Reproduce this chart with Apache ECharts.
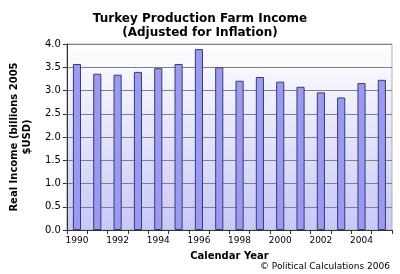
<!DOCTYPE html>
<html><head><meta charset="utf-8">
<script src="https://cdn.jsdelivr.net/npm/echarts@6/dist/echarts.min.js"></script>
<style>html,body{margin:0;padding:0;background:#fff}#c{width:400px;height:274px}</style>
</head><body><div id="c"></div>
<script>
var years = ['1990','1991','1992','1993','1994','1995','1996','1997','1998','1999','2000','2001','2002','2003','2004','2005'];
var income = [3.57,3.36,3.34,3.40,3.48,3.57,3.89,3.50,3.21,3.29,3.19,3.08,2.96,2.85,3.16,3.23];
var titleLines = ['Turkey Production Farm Income','(Adjusted for Inflation)'];
var yName = 'Real Income (billions 2005\n$USD)';
var xName = 'Calendar Year';
var credit = '\u00a9 Political Calculations 2006';

var chart = echarts.init(document.getElementById('c'), null, {renderer:'canvas'});
var F = 'DejaVu Sans';
chart.setOption({
  animation:false,
  textStyle:{fontFamily:F},
  title:[{text:titleLines.join('\n'), left:'center', top:7, textStyle:{fontFamily:F,fontSize:12,fontWeight:'bold',color:'#000',lineHeight:14}},
         {text:credit, right:5, top:257, textStyle:{fontFamily:F,fontSize:9,fontWeight:'normal',color:'#000'}}],
  grid:{left:59, right:8, top:44, bottom:44, show:true, borderColor:'#b0b0b0', borderWidth:1,
        backgroundColor:new echarts.graphic.LinearGradient(0,0,0,1,[{offset:0,color:'#ffffff'},{offset:1,color:'#c8c8f8'}])},
  xAxis:{type:'category', data:years, boundaryGap:true,
         name:xName, nameLocation:'middle', nameGap:21,
         nameTextStyle:{fontFamily:F,fontSize:10,fontWeight:'bold',color:'#000'},
         axisLine:{lineStyle:{color:'#333',width:1}},
         axisTick:{show:true, alignWithLabel:false, interval:0, length:4, lineStyle:{color:'#333'}},
         axisLabel:{interval:1, fontFamily:F, fontSize:9, color:'#000', margin:6}},
  yAxis:{type:'value', min:0, max:4, interval:0.5,
         name:yName, nameLocation:'middle', nameGap:30, nameRotate:90,
         nameTextStyle:{fontFamily:F,fontSize:10,fontWeight:'bold',color:'#000',lineHeight:13},
         axisLine:{show:true, lineStyle:{color:'#333'}},
         axisTick:{show:true, length:4, lineStyle:{color:'#333'}},
         axisLabel:{fontFamily:F, fontSize:10, color:'#000', margin:6, formatter:function(v){return v.toFixed(1);}},
         splitLine:{show:true, lineStyle:{color:'#808080', width:1}}},
  series:[{type:'bar', data:income, barWidth:'40%',
           itemStyle:{color:'#9a9af5', borderColor:'#3a3a70', borderWidth:1}}]
});
</script></body></html>
